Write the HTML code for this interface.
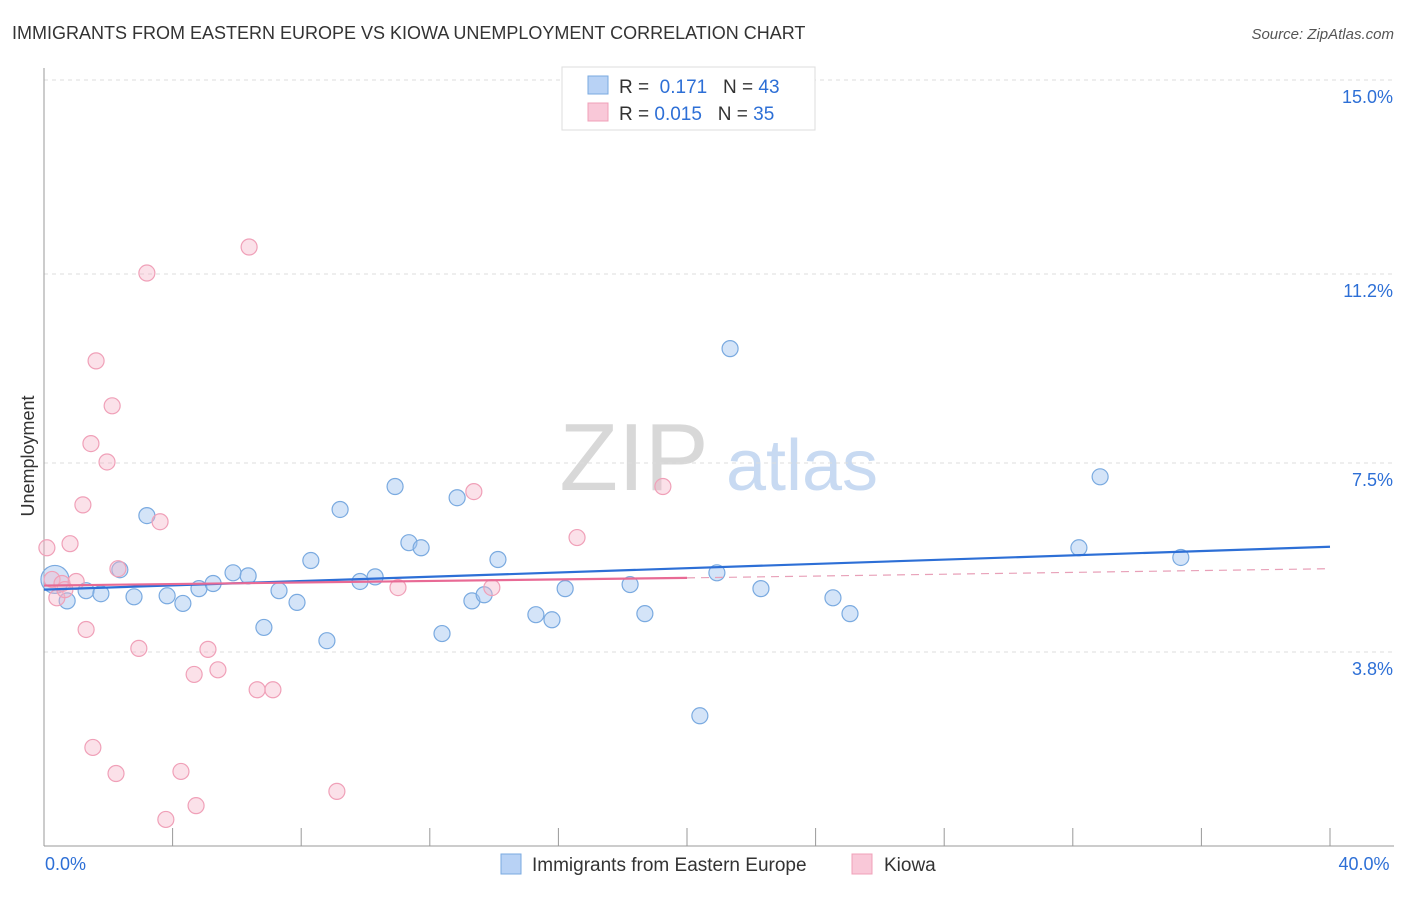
<!DOCTYPE html>
<html><head><meta charset="utf-8"><style>
body{margin:0;background:#fff;font-family:"Liberation Sans",sans-serif}
svg text{font-family:"Liberation Sans",sans-serif}
</style></head><body>
<svg id="chart" width="1406" height="892">
<text x="12" y="39" font-size="18" fill="#333">IMMIGRANTS FROM EASTERN EUROPE VS KIOWA UNEMPLOYMENT CORRELATION CHART</text>
<text x="1394" y="39" font-size="15" fill="#555" font-style="italic" text-anchor="end">Source: ZipAtlas.com</text>
<g>
<text x="634" y="490" font-size="96" font-family="Liberation Serif" fill="#d8d8d8" text-anchor="middle">ZIP</text>
<text x="802" y="490" font-size="72" fill="#c8daf2" text-anchor="middle">atlas</text>
</g>
<g id="grid"></g><g id="axes"></g><g id="marks"></g>
<text transform="translate(34,456) rotate(-90)" font-size="18" fill="#333" text-anchor="middle">Unemployment</text>
<g>
<rect x="562" y="67" width="253" height="63" fill="#fff" stroke="#ddd"/>
<rect x="588" y="76" width="20" height="18" fill="#b8d2f5" stroke="#7aaae0"/>
<rect x="588" y="103" width="20" height="18" fill="#f9c8d8" stroke="#f0a0b8"/>
<text x="619" y="93" font-size="19" fill="#333">R = <tspan fill="#2d6fd6">&#160;0.171</tspan>&#160;&#160;&#160;N = <tspan fill="#2d6fd6">43</tspan></text>
<text x="619" y="120" font-size="19" fill="#333">R = <tspan fill="#2d6fd6">0.015</tspan>&#160;&#160;&#160;N = <tspan fill="#2d6fd6">35</tspan></text>
</g>
<g>
<rect x="501" y="854" width="20" height="20" fill="#b8d2f5" stroke="#7aaae0"/>
<text x="532" y="871" font-size="19" fill="#333">Immigrants from Eastern Europe</text>
<rect x="852" y="854" width="20" height="20" fill="#f9c8d8" stroke="#f0a0b8"/>
<text x="884" y="871" font-size="19" fill="#333">Kiowa</text>
</g>
</svg>
<script>
const yTicks=[15.0,11.2,7.5,3.8];
const yTickLabels=["15.0%","11.2%","7.5%","3.8%"];
const xTicks=[0,4,8,12,16,20,24,28,32,36,40];
const xEndLabels=["0.0%","40.0%"];
const blueX=[0.34,0.72,1.31,1.77,2.36,2.80,3.20,3.83,4.32,4.82,5.26,5.88,6.35,6.84,7.31,7.87,8.30,8.80,9.21,9.83,10.30,10.92,11.35,11.73,12.38,12.85,13.31,13.69,14.12,15.30,15.80,16.21,18.23,18.69,20.40,20.93,21.34,22.30,24.54,25.07,32.19,32.85,35.36];
const blueY=[5.22,4.80,5.00,4.94,5.41,4.88,6.47,4.90,4.75,5.04,5.14,5.35,5.29,4.28,5.00,4.77,5.59,4.02,6.59,5.18,5.27,7.04,5.94,5.84,4.16,6.82,4.80,4.92,5.61,4.53,4.43,5.04,5.12,4.55,2.55,5.35,9.74,5.04,4.86,4.55,5.84,7.23,5.65];
const pinkX=[0.09,0.25,0.40,0.56,0.81,1.00,1.21,1.31,1.46,1.62,1.96,2.12,2.24,2.30,2.95,3.20,3.61,3.79,4.26,4.67,4.73,5.10,5.41,6.38,6.63,7.12,9.11,11.01,13.37,13.93,16.58,19.25,1.52,0.65];
const pinkY=[5.84,5.22,4.86,5.14,5.92,5.18,6.68,4.24,7.88,9.50,7.52,8.62,1.42,5.43,3.87,11.22,6.35,0.52,1.46,3.36,0.79,3.85,3.45,11.73,3.06,3.06,1.07,5.06,6.94,5.06,6.04,7.04,1.93,5.02];
const blueTrendX=[0,40], blueTrendY=[5.02,5.86];
const pinkTrendX=[0,20,40], pinkTrendY=[5.10,5.25,5.43];
const NS="http://www.w3.org/2000/svg";
const X0=44,X1=1330,YB=846,YT=80;
const xs=v=>X0+v/40*(X1-X0);
const ys=v=>YB-v/15*(YB-YT);
function mk(tag,attrs,parent){const e=document.createElementNS(NS,tag);for(const k in attrs)e.setAttribute(k,attrs[k]);parent.appendChild(e);return e;}
const grid=document.getElementById('grid'),axes=document.getElementById('axes'),marks=document.getElementById('marks');
yTicks.forEach((t,i)=>{
 const l=mk('line',{x1:X0,x2:1394,y1:ys(t),y2:ys(t),stroke:'#ddd','stroke-dasharray':'4,4'},grid);
 
 
 const tx=mk('text',{x:1393,y:ys(t)+23,'font-size':18,fill:'#2d6fd6','text-anchor':'end'},axes);
 tx.textContent=yTickLabels[i];
 
 
});
const ya=mk('line',{x1:X0,x2:X0,y1:68,y2:YB,stroke:'#999'},axes);


const xa=mk('line',{x1:X0,x2:1394,y1:YB,y2:YB,stroke:'#999'},axes);


xTicks.forEach(t=>{
 const l=mk('line',{x1:xs(t),x2:xs(t),y1:828,y2:YB,stroke:'#999'},axes);
 
 
});
[[0,'start',xEndLabels[0]],[40,'middle',xEndLabels[1]]].forEach(([v,a,s])=>{
 const tx=mk('text',{x:a==='start'?xs(v)+1:xs(v)+34,y:870,'font-size':18,fill:'#2d6fd6','text-anchor':a==='start'?'start':'middle'},axes);
 tx.textContent=s;
 
 
});
blueX.forEach((x,i)=>{
 const c=mk('circle',{cx:xs(x),cy:ys(blueY[i]),r:i===0?14:8,fill:'rgba(160,195,240,0.45)',stroke:'#7aaae0','stroke-width':1.2},marks);
 
 
});
pinkX.forEach((x,i)=>{
 const c=mk('circle',{cx:xs(x),cy:ys(pinkY[i]),r:8,fill:'rgba(245,180,200,0.4)',stroke:'#f0a0b8','stroke-width':1.2},marks);
 
 
});
const bt=mk('line',{x1:xs(blueTrendX[0]),y1:ys(blueTrendY[0]),x2:xs(blueTrendX[1]),y2:ys(blueTrendY[1]),stroke:'#2d6fd6','stroke-width':2.2},marks);


const pt=mk('line',{x1:xs(pinkTrendX[0]),y1:ys(pinkTrendY[0]),x2:xs(pinkTrendX[1]),y2:ys(pinkTrendY[1]),stroke:'#e86a95','stroke-width':2.2},marks);


const pd=mk('line',{x1:xs(pinkTrendX[1]),y1:ys(pinkTrendY[1]),x2:xs(pinkTrendX[2]),y2:ys(pinkTrendY[2]),stroke:'#e8a0b8','stroke-width':1.2,'stroke-dasharray':'8,6'},marks);


</script>
</body></html>
